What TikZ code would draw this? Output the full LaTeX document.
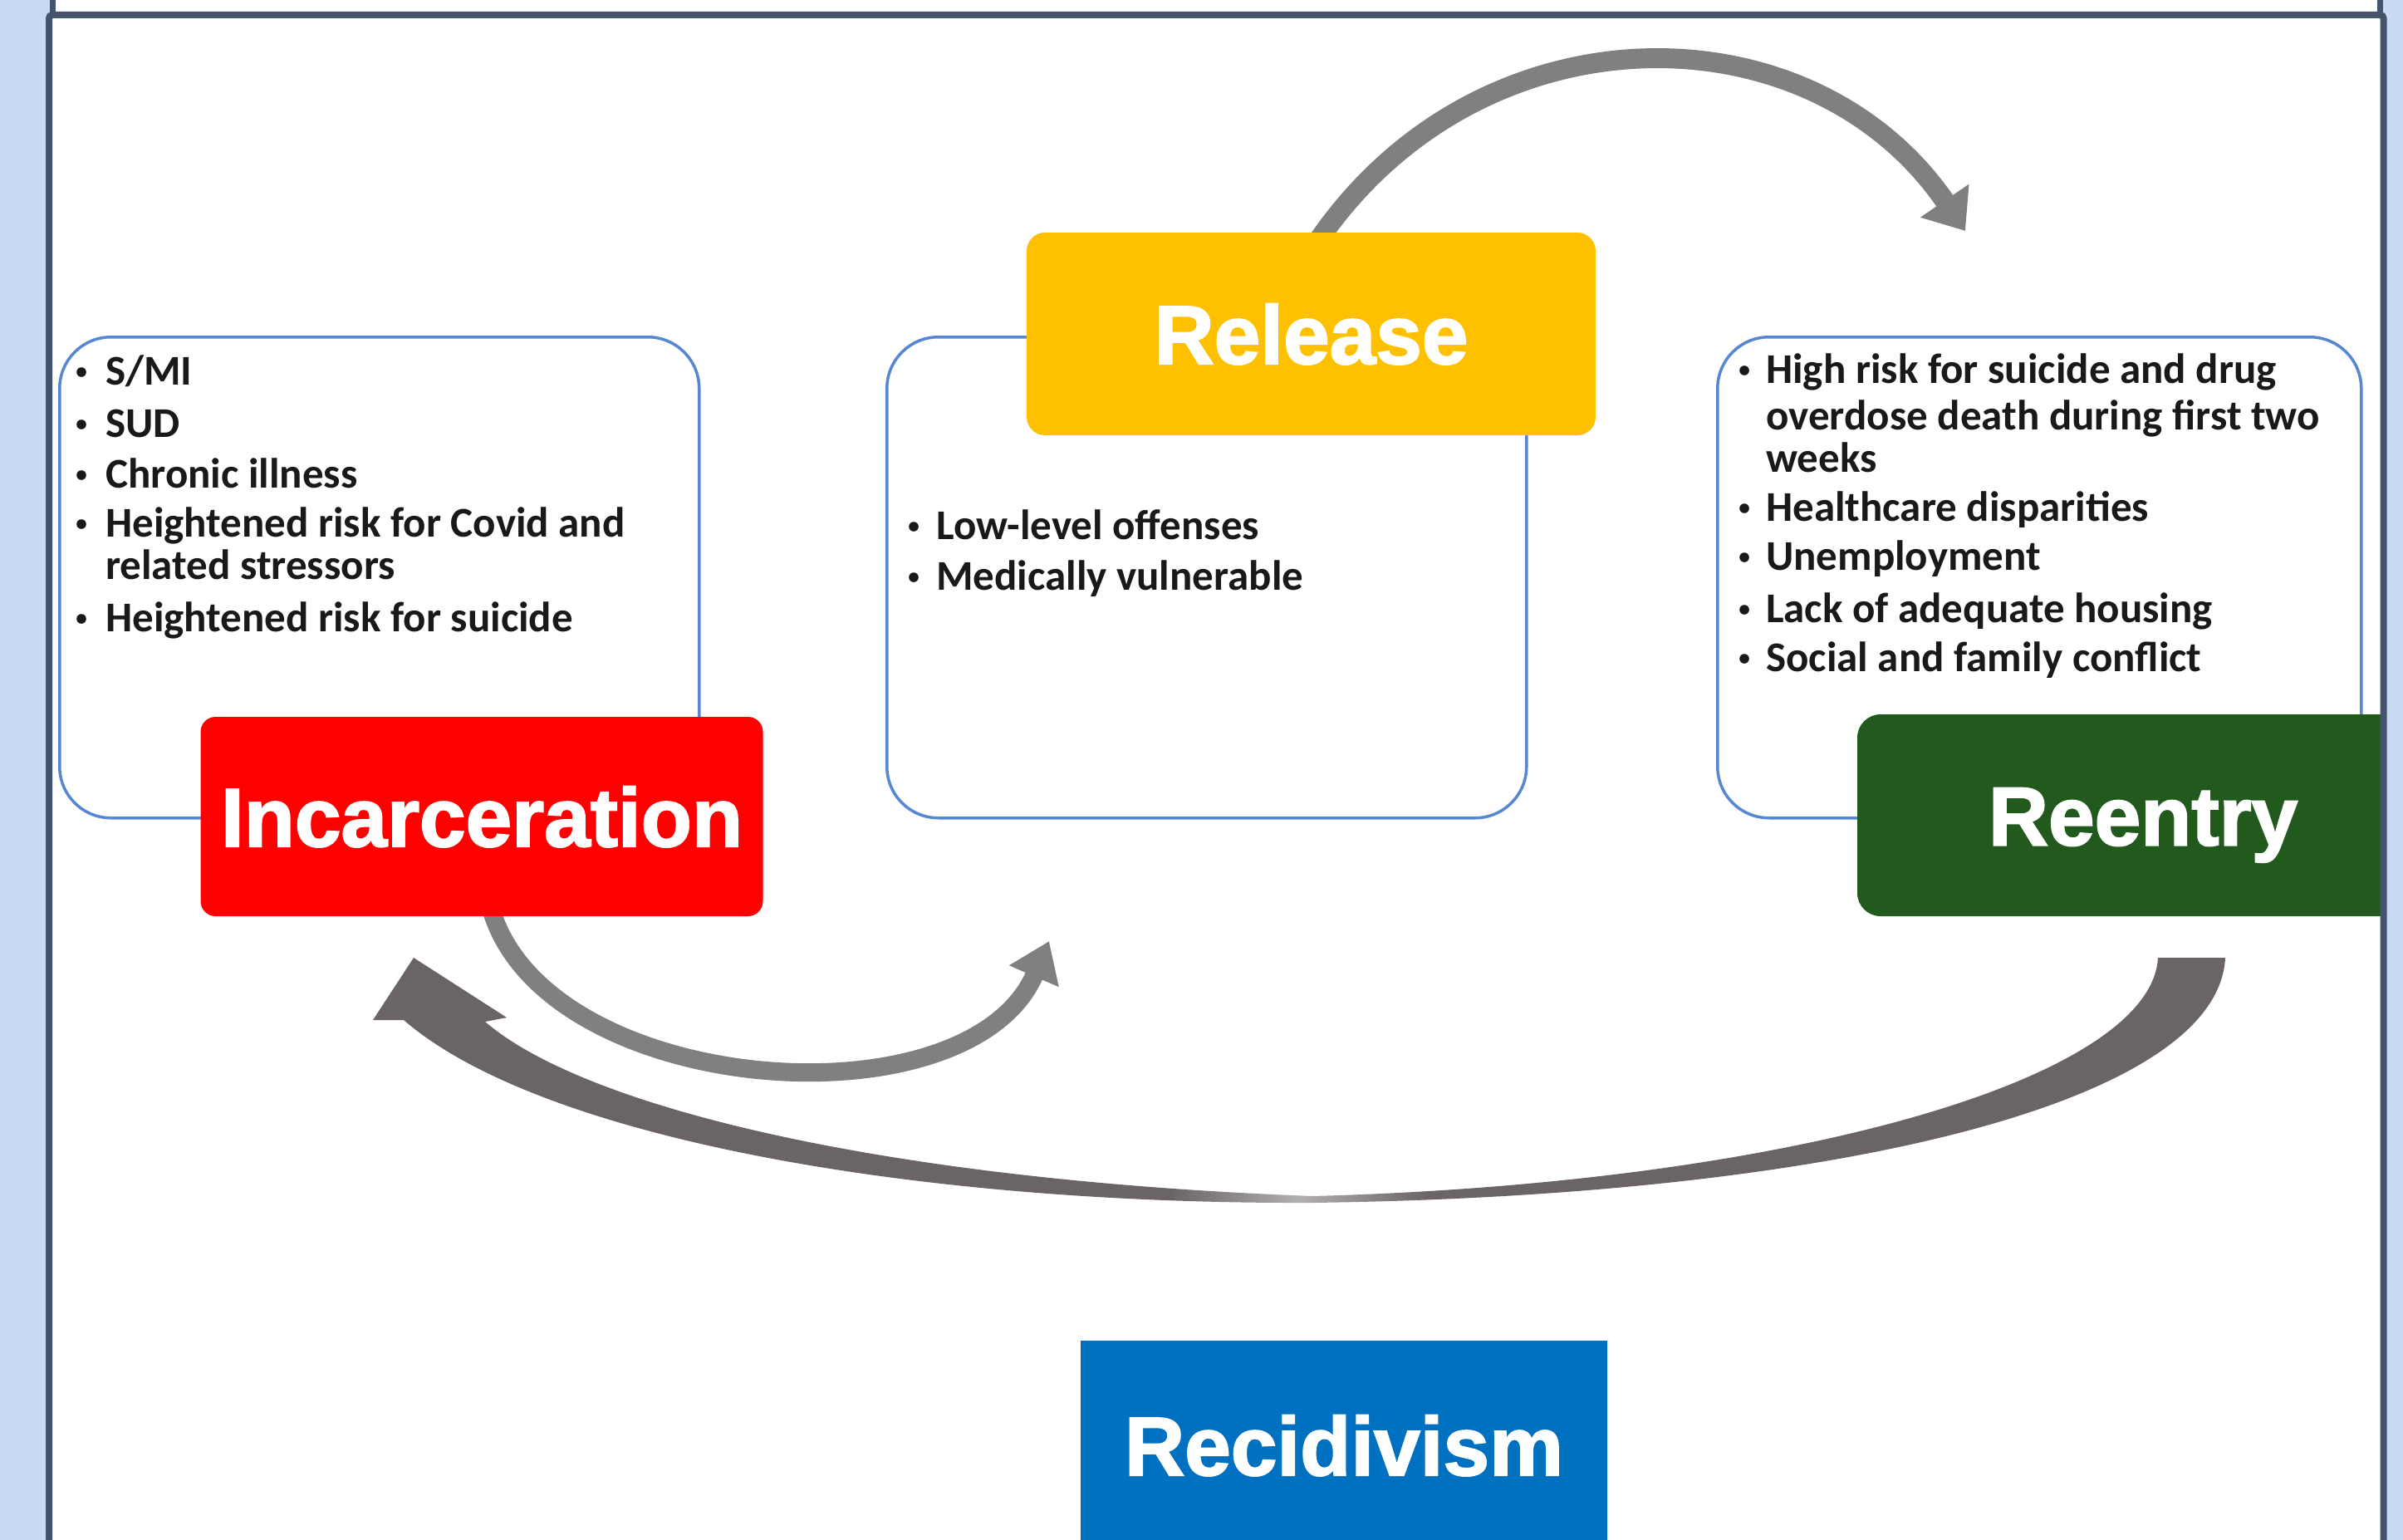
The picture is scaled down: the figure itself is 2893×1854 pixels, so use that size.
\documentclass[tikz,border=0pt]{standalone}
\usepackage{fontspec}
\setmainfont{Carlito}
\newfontfamily\lblfont{Liberation Sans}[BoldFeatures={FakeBold=2}]
\usetikzlibrary{arrows.meta}
\definecolor{bgblue}{RGB}{201,218,245}
\definecolor{framec}{RGB}{68,84,106}
\definecolor{boxblue}{RGB}{85,135,210}
\definecolor{incred}{RGB}{255,0,0}
\definecolor{relyel}{RGB}{255,192,0}
\definecolor{reegreen}{RGB}{34,90,30}
\definecolor{recblue}{RGB}{0,112,192}
\definecolor{agray}{RGB}{128,128,128}
\definecolor{bag}{RGB}{106,100,100}
\definecolor{bagl}{RGB}{178,175,175}
\definecolor{txt}{RGB}{25,25,25}
\pgfdeclarehorizontalshading{bigarrow}{100bp}{color(0bp)=(bag); color(46.5bp)=(bag); color(50bp)=(bagl); color(53.5bp)=(bag); color(100bp)=(bag)}
\newcommand\bitem[5]{%
  \fill[txt] (#2,#4-15) circle (5.8pt);
  \node[btxt] (#1) at (#3,#4) {#5};}
\newcommand\bcont[4]{\node[btxt] (#1) at (#2,#3) {#4};}
\begin{document}
\begin{tikzpicture}[x=1pt,y=-1pt,
  lbl/.style={font=\lblfont\bfseries\fontsize{100}{110}\selectfont, text=white,
    text height=72pt, text depth=0pt, inner sep=0pt},
  tbox/.style={draw=boxblue, line width=3.5pt, fill=white, rounded corners=62pt,
    inner sep=0pt, anchor=north west},
  btxt/.style={font=\bfseries\fontsize{51}{53}\selectfont, inner sep=0pt,
    anchor=base west, text=txt},
  thinarrow/.style={draw=agray, line cap=butt}]
\useasboundingbox (0,0) rectangle (2893,1854);
% background and frame panels
\fill[bgblue] (0,0) rectangle (2893,1854);
\fill[white] (63,0) rectangle (2866,16);
\draw[framec, line width=7pt] (63.5,0) -- (63.5,16);
\draw[framec, line width=7pt] (2865.5,0) -- (2865.5,16);
\fill[white] (59,18) rectangle (2869.5,1860);
\begin{scope}
\clip (63,22) rectangle (2866,1854);
% text boxes
\node[tbox, minimum width=770pt, minimum height=579pt] (lbox) at (70,404) {};
\node[tbox, minimum width=770pt, minimum height=579pt] (mbox) at (1066,404) {};
\node[tbox, minimum width=775pt, minimum height=579pt] (rbox) at (2066,404) {};
% arrows
\coordinate (t1s) at (1580,300);
\coordinate (t1e) at (2366,278);
\draw[thinarrow, line width=24pt, -{Triangle[length=44pt,width=68pt]}]
  (t1s) .. controls (1773,4) and (2178,3) .. (t1e);
\coordinate (s1s) at (590,1090);
\coordinate (s1e) at (1263,1133);
\draw[thinarrow, line width=22pt, -{Triangle[length=46pt,width=62pt]}]
  (s1s) .. controls (650,1320) and (1165,1360) .. (s1e);
\coordinate (b1s) at (2638,1153);
\coordinate (b1e) at (498,1153);
\shade[shading=bigarrow]
  (2679,1153) .. controls (2670,1330) and (2200,1440) .. (1580,1448)
  .. controls (1100,1450) and (650,1370) .. (486,1228)
  -- (449,1228) -- (b1e) -- (610,1225) -- (584,1230)
  .. controls (700,1330) and (1050,1420) .. (1580,1440)
  .. controls (2150,1425) and (2590,1300) .. (2598,1153) -- cycle;
% coloured stage boxes
\node[lbl, fill=incred, rounded corners=18pt, minimum width=677pt, minimum height=240pt] (inc) at (580,983) {Incarceration};
\node[lbl, fill=relyel, rounded corners=22pt, minimum width=685pt, minimum height=244pt] (rel) at (1578.5,402) {Release};
\node[lbl, fill=reegreen, rounded corners=28pt, minimum width=688pt, minimum height=243pt] (ree) at (2580,981.5) {Reentry};
\node[lbl, fill=recblue, minimum width=634pt, minimum height=252pt] (rec) at (1618,1740) {Recidivism};
% bullet texts
\bitem{l1}{98}{127}{463}{S/MI}
\bitem{l2}{98}{127}{526}{SUD}
\bitem{l3}{98}{127}{587}{Chronic illness}
\bitem{l4}{98}{127}{646}{Heightened risk for Covid and}
\bcont{l4b}{127}{697}{related stressors}
\bitem{l5}{98}{127}{760}{Heightened risk for suicide}
\bitem{m1}{1100}{1127}{649}{Low-level offenses}
\bitem{m2}{1100}{1127}{710}{Medically vulnerable}
\bitem{r1}{2100}{2126}{461}{High risk for suicide and drug}
\bcont{r1b}{2126}{517}{overdose death during first two}
\bcont{r1c}{2126}{568}{weeks}
\bitem{r2}{2100}{2126}{627}{Healthcare disparities}
\bitem{r3}{2100}{2126}{686}{Unemployment}
\bitem{r4}{2100}{2126}{749}{Lack of adequate housing}
\bitem{r5}{2100}{2126}{808}{Social and family conflict}
\end{scope}
\draw[framec, line width=8pt, rounded corners=4pt] (59,1870) -- (59,18) -- (2869.5,18) -- (2869.5,1870);
\end{tikzpicture}
\end{document}
